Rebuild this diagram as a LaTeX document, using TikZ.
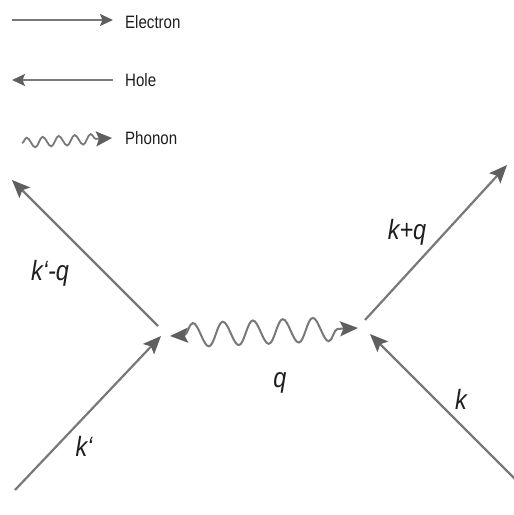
\documentclass[tikz,border=0pt]{standalone}
\usepackage{fontspec}
\setmainfont{Liberation Sans}[FakeStretch=0.84]
\usetikzlibrary{arrows.meta, decorations.pathmorphing}
\definecolor{linegray}{RGB}{120, 120, 120}
\definecolor{tipgray}{RGB}{95, 95, 95}
\definecolor{textgray}{RGB}{30, 30, 30}

\begin{document}
\begin{tikzpicture}[x=1bp, y=-1bp]

  \tikzset{
    particle/.style={
      -{Stealth[length=18bp, width=15bp, inset=3.5bp, color=tipgray]},
      line width=2.2bp, color=linegray,
    },
    particle-legend/.style={
      -{Stealth[length=13bp, width=12bp, inset=2.5bp, color=tipgray]},
      line width=1.8bp, color=linegray,
    },
    phonon/.style={
      {Stealth[length=18bp, width=15bp, inset=3.5bp, color=tipgray]}-{Stealth[length=18bp, width=15bp, inset=3.5bp, color=tipgray]},
      line width=2bp, color=linegray,
      decorate, decoration={snake, amplitude=12bp, segment length=30bp,
        pre length=14bp, post length=14bp},
    },
    phonon-legend/.style={
      -{Stealth[length=16bp, width=15bp, inset=3bp, color=tipgray]},
      line width=1.8bp, color=linegray,
      decorate, decoration={snake, amplitude=5bp, segment length=16bp,
        post length=15bp},
    },
    legendtext/.style={anchor=west, text=textgray, inner sep=0pt,
      font=\fontsize{18}{20}\selectfont},
    momentum/.style={text=textgray, inner sep=0pt,
      font=\fontsize{28}{30}\selectfont\itshape},
  }

  \useasboundingbox (0, 0) rectangle (514, 515);

  %% ---------------- LEGEND ----------------
  \coordinate (e-start) at (12, 20);
  \coordinate (e-end) at (113, 20);
  \coordinate (h-start) at (113, 80);
  \coordinate (h-end) at (12, 80);
  \coordinate (p-start) at (22, 143);
  \coordinate (p-end) at (112, 138);
  \draw[particle-legend] (e-start) -- (e-end);
  \draw[particle-legend] (h-start) -- (h-end);
  \draw[phonon-legend] (p-start) -- (p-end);
  \node[legendtext] (electron) at (125, 22) {Electron};
  \node[legendtext] (hole) at (125, 80) {Hole};
  \node[legendtext] (phonon) at (125, 138) {Phonon};

  %% ---------------- LEFT VERTEX ----------------
  % incoming k'
  \coordinate (kp-in) at (15, 490);
  \coordinate (left-in) at (161, 336);
  \draw[particle] (kp-in) -- (left-in);
  % outgoing k'-q
  \coordinate (left-out) at (158, 326);
  \coordinate (kpq-out) at (12, 180);
  \draw[particle] (left-out) -- (kpq-out);

  %% ---------------- RIGHT VERTEX ----------------
  % incoming k
  \coordinate (k-in) at (515, 479);
  \coordinate (right-in) at (370, 334);
  \draw[particle] (k-in) -- (right-in);
  % outgoing k+q
  \coordinate (right-out) at (365, 320);
  \coordinate (kq-out) at (507, 165);
  \draw[particle] (right-out) -- (kq-out);

  %% ---------------- PHONON q ----------------
  \coordinate (q-left) at (170, 336);
  \coordinate (q-right) at (358, 328);
  \draw[phonon] (q-left) -- (q-right);

  % momentum labels
  \node[momentum] (lab-kpq) at (50, 273) {k‘-q};
  \node[momentum] (lab-kp) at (84, 446) {k‘};
  \node[momentum] (lab-kq) at (407, 232) {k+q};
  \node[momentum] (lab-q) at (280, 383) {q};
  \node[momentum] (lab-k) at (461, 399) {k};

\end{tikzpicture}
\end{document}
